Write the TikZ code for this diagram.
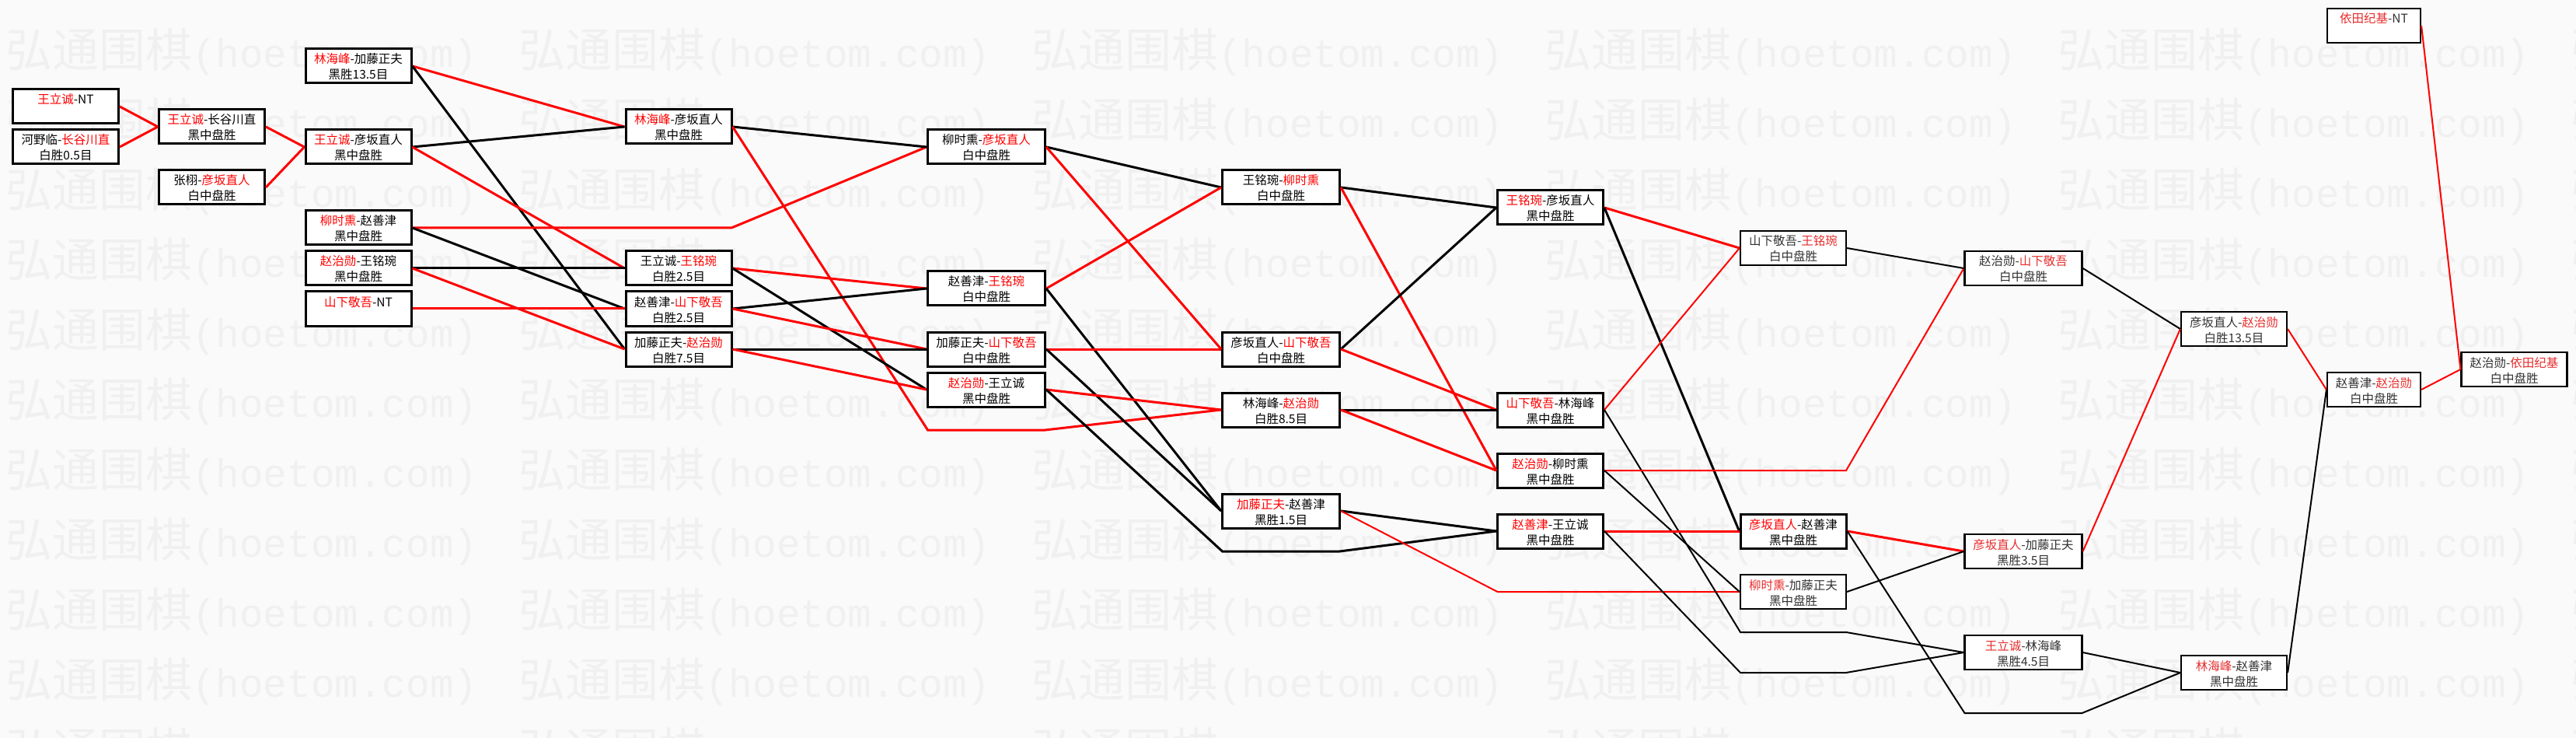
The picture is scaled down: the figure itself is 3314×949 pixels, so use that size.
\documentclass[tikz,border=0pt]{standalone}
\usepackage{fontspec}
\usepackage{tikz}
\usetikzlibrary{calc}
\newfontfamily\cjk{Noto Sans CJK SC}
\newfontfamily\wmlatin{Liberation Mono}
\definecolor{winred}{RGB}{255,0,0}
\definecolor{fadered}{RGB}{232,45,45}
\definecolor{fadetxt}{RGB}{50,50,50}
\definecolor{pagebg}{RGB}{250,250,250}
\definecolor{wmgray}{RGB}{240,240,240}
\newcommand{\redname}[1]{\textcolor{winred}{#1}}
\newcommand{\gm}[2]{\rule{0pt}{19pt}#1\\\rule[-5pt]{0pt}{5pt}#2}

\begin{document}
\begin{tikzpicture}[x=1pt, y=-1pt,
    game/.style={draw, fill=white, line width=3pt, inner sep=0pt, minimum height=44pt,
                 minimum width=136pt, align=center, font=\cjk\fontsize{15.5}{20}\selectfont},
    gamelt/.style={game, line width=2.2pt, text=fadetxt,
                 font=\cjk\fontsize{15.5}{20}\selectfont\colorlet{winred}{fadered}},
    wide/.style={minimum width=151pt},
    narrow/.style={minimum width=120pt},
    redwire/.style={winred, line width=3pt},
    blkwire/.style={black, line width=3pt},
    redthin/.style={winred, line width=2pt},
    blkthin/.style={black, line width=2pt},
    wmark/.style={wmgray, anchor=west, inner sep=0pt, font=\cjk\fontsize{60}{60}\selectfont}]

    % Page and hoetom watermark
    \fill[pagebg] (0,0) rectangle (3314,949);
    \useasboundingbox (0,0) rectangle (3314,949);
    \begin{scope}
        \clip (0,0) rectangle (3314,949);
        \foreach \wr in {0,...,10}
            \foreach \wc in {0,...,5}
                \node[wmark] (wm-\wr-\wc) at ({7+660*\wc},{67+90*\wr})
                    {弘通围棋{\wmlatin\fontsize{51}{51}\selectfont (hoetom.com)}};
    \end{scope}

    % Round 1
    \node[game] (a1) at (84.5,137) {\gm{\redname{王立诚}-NT}{}};
    \node[game] (a2) at (84.5,189) {\gm{河野临-\redname{长谷川直}}{白胜0.5目}};

    % Round 2
    \node[game] (b1) at (272.5,163) {\gm{\redname{王立诚}-长谷川直}{黑中盘胜}};
    \node[game] (b2) at (272.5,241) {\gm{张栩-\redname{彦坂直人}}{白中盘胜}};

    % Round 3
    \node[game] (c1) at (461,85) {\gm{\redname{林海峰}-加藤正夫}{黑胜13.5目}};
    \node[game] (c2) at (461,189) {\gm{\redname{王立诚}-彦坂直人}{黑中盘胜}};
    \node[game] (c3) at (461,293) {\gm{\redname{柳时熏}-赵善津}{黑中盘胜}};
    \node[game] (c4) at (461,345) {\gm{\redname{赵治勋}-王铭琬}{黑中盘胜}};
    \node[game] (c5) at (461,397) {\gm{\redname{山下敬吾}-NT}{}};

    % Round 4
    \node[game] (d1) at (873,163) {\gm{\redname{林海峰}-彦坂直人}{黑中盘胜}};
    \node[game] (d2) at (873,345) {\gm{王立诚-\redname{王铭琬}}{白胜2.5目}};
    \node[game] (d3) at (873,397) {\gm{赵善津-\redname{山下敬吾}}{白胜2.5目}};
    \node[game] (d4) at (873,449) {\gm{加藤正夫-\redname{赵治勋}}{白胜7.5目}};

    % Round 5
    \node[game, wide] (e1) at (1269,189) {\gm{柳时熏-\redname{彦坂直人}}{白中盘胜}};
    \node[game, wide] (e2) at (1269,371) {\gm{赵善津-\redname{王铭琬}}{白中盘胜}};
    \node[game, wide] (e3) at (1269,449) {\gm{加藤正夫-\redname{山下敬吾}}{白中盘胜}};
    \node[game, wide] (e4) at (1269,501) {\gm{\redname{赵治勋}-王立诚}{黑中盘胜}};

    % Round 6
    \node[game, wide] (f1) at (1648,241) {\gm{王铭琬-\redname{柳时熏}}{白中盘胜}};
    \node[game, wide] (f2) at (1648,449) {\gm{彦坂直人-\redname{山下敬吾}}{白中盘胜}};
    \node[game, wide] (f3) at (1648,527) {\gm{林海峰-\redname{赵治勋}}{白胜8.5目}};
    \node[game, wide] (f4) at (1648,657) {\gm{\redname{加藤正夫}-赵善津}{黑胜1.5目}};

    % Round 7
    \node[game] (g1) at (1994.5,267) {\gm{\redname{王铭琬}-彦坂直人}{黑中盘胜}};
    \node[game] (g2) at (1994.5,527) {\gm{\redname{山下敬吾}-林海峰}{黑中盘胜}};
    \node[game] (g3) at (1994.5,605) {\gm{\redname{赵治勋}-柳时熏}{黑中盘胜}};
    \node[game] (g4) at (1994.5,683) {\gm{\redname{赵善津}-王立诚}{黑中盘胜}};

    % Round 8
    \node[gamelt] (h1) at (2307,319) {\gm{山下敬吾-\redname{王铭琬}}{白中盘胜}};
    \node[game] (h2) at (2307,683) {\gm{\redname{彦坂直人}-赵善津}{黑中盘胜}};
    \node[gamelt] (h3) at (2307,761) {\gm{\redname{柳时熏}-加藤正夫}{黑中盘胜}};

    % Round 9
    \node[gamelt, wide] (i1) at (2603,345) {\gm{赵治勋-\redname{山下敬吾}}{白中盘胜}};
    \node[gamelt, wide] (i2) at (2603,709) {\gm{\redname{彦坂直人}-加藤正夫}{黑胜3.5目}};
    \node[gamelt, wide] (i3) at (2603,839) {\gm{\redname{王立诚}-林海峰}{黑胜4.5目}};

    % Round 10 and final
    \node[gamelt] (j1) at (2874,423) {\gm{彦坂直人-\redname{赵治勋}}{白胜13.5目}};
    \node[gamelt] (j2) at (2874,865) {\gm{\redname{林海峰}-赵善津}{黑中盘胜}};
    \node[gamelt, narrow] (k0) at (3054,33) {\gm{\redname{依田纪基}-NT}{}};
    \node[gamelt, narrow] (k1) at (3054,501) {\gm{赵善津-\redname{赵治勋}}{白中盘胜}};
    \node[gamelt] (l1) at (3234.5,475) {\gm{赵治勋-\redname{依田纪基}}{白中盘胜}};

    % Bends where a path skips a round
    \coordinate (pA) at (941,293);
    \coordinate (pB1) at (1193.5,553);
    \coordinate (pB2) at (1344.5,553);
    \coordinate (pC1) at (1572.5,709);
    \coordinate (pC2) at (1723.5,709);
    \coordinate (pD) at (1926.5,761);
    \coordinate (pE1) at (2239,813);
    \coordinate (pE2) at (2375,813);
    \coordinate (pF) at (2375,605);
    \coordinate (pG1) at (2239,865);
    \coordinate (pG2) at (2375,865);
    \coordinate (pH1) at (2527.5,917);
    \coordinate (pH2) at (2678.5,917);

    % Red and black paths
    \draw[redwire] (a1.east) -- (b1.west);
    \draw[redwire] (a2.east) -- (b1.west);
    \draw[redwire] (b1.east) -- (c2.west);
    \draw[redwire] (b2.east) -- (c2.west);
    \draw[redwire] (c1.east) -- (d1.west);
    \draw[blkwire] (c1.east) -- (d4.west);
    \draw[blkwire] (c2.east) -- (d1.west);
    \draw[redwire] (c2.east) -- (d2.west);
    \draw[redwire] (c3.east) -- (pA) -- (e1.west);
    \draw[blkwire] (c3.east) -- (d3.west);
    \draw[blkwire] (c4.east) -- (d2.west);
    \draw[redwire] (c4.east) -- (d4.west);
    \draw[redwire] (c5.east) -- (d3.west);
    \draw[blkwire] (d1.east) -- (e1.west);
    \draw[redwire] (d1.east) -- (pB1) -- (pB2) -- (f3.west);
    \draw[redwire] (d2.east) -- (e2.west);
    \draw[blkwire] (d2.east) -- (e4.west);
    \draw[blkwire] (d3.east) -- (e2.west);
    \draw[redwire] (d3.east) -- (e3.west);
    \draw[blkwire] (d4.east) -- (e3.west);
    \draw[redwire] (d4.east) -- (e4.west);
    \draw[blkwire] (e1.east) -- (f1.west);
    \draw[redwire] (e1.east) -- (f2.west);
    \draw[redwire] (e2.east) -- (f1.west);
    \draw[blkwire] (e2.east) -- (f4.west);
    \draw[redwire] (e3.east) -- (f2.west);
    \draw[blkwire] (e3.east) -- (f4.west);
    \draw[redwire] (e4.east) -- (f3.west);
    \draw[blkwire] (e4.east) -- (pC1) -- (pC2) -- (g4.west);
    \draw[blkwire] (f1.east) -- (g1.west);
    \draw[redwire] (f1.east) -- (g3.west);
    \draw[blkwire] (f2.east) -- (g1.west);
    \draw[redwire] (f2.east) -- (g2.west);
    \draw[blkwire] (f3.east) -- (g2.west);
    \draw[redwire] (f3.east) -- (g3.west);
    \draw[blkwire] (f4.east) -- (g4.west);
    \draw[redthin] (f4.east) -- (pD) -- (h3.west);
    \draw[redwire] (g1.east) -- (h1.west);
    \draw[blkwire] (g1.east) -- (h2.west);
    \draw[redthin] (g2.east) -- (h1.west);
    \draw[blkthin] (g2.east) -- (pE1) -- (pE2) -- (i3.west);
    \draw[redthin] (g3.east) -- (pF) -- (i1.west);
    \draw[blkthin] (g3.east) -- (h3.west);
    \draw[redwire] (g4.east) -- (h2.west);
    \draw[blkthin] (g4.east) -- (pG1) -- (pG2) -- (i3.west);
    \draw[blkthin] (h1.east) -- (i1.west);
    \draw[redwire] (h2.east) -- (i2.west);
    \draw[blkthin] (h2.east) -- (pH1) -- (pH2) -- (j2.west);
    \draw[blkthin] (h3.east) -- (i2.west);
    \draw[blkthin] (i1.east) -- (j1.west);
    \draw[redthin] (i2.east) -- (j1.west);
    \draw[blkthin] (i3.east) -- (j2.west);
    \draw[redthin] (j1.east) -- (k1.west);
    \draw[blkthin] (j2.east) -- (k1.west);
    \draw[redthin] (k0.east) -- (l1.west);
    \draw[redthin] (k1.east) -- (l1.west);
\end{tikzpicture}
\end{document}
